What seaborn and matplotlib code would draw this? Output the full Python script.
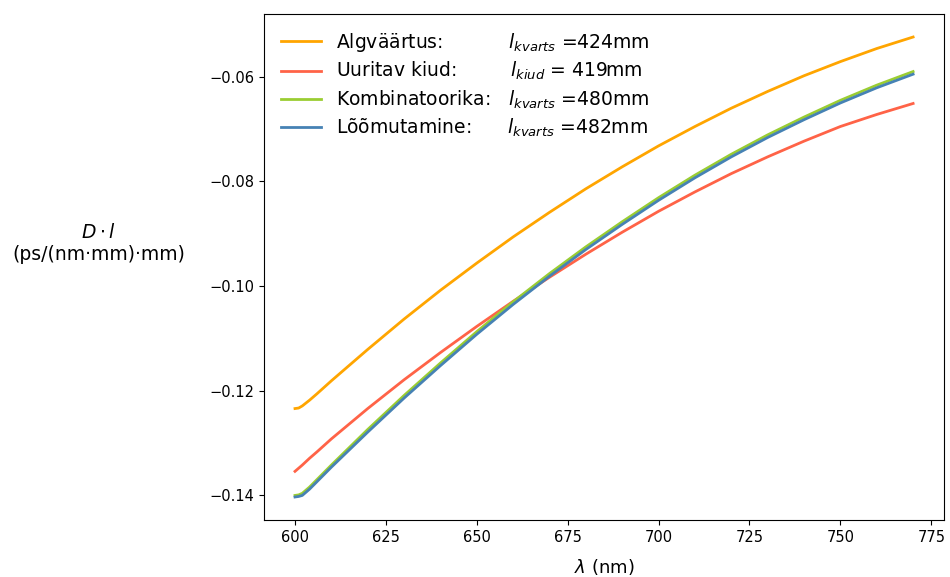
import numpy as np
import pandas as pd
import matplotlib
matplotlib.use("Agg")
import matplotlib.pyplot as plt
import seaborn as sns

wavelength = [600, 601, 602, 604, 606, 610, 620, 630, 640, 650, 660, 670, 680,
              690, 700, 710, 720, 730, 740, 750, 760, 770]

algvaartus = [-0.1234, -0.1233, -0.1229, -0.1218, -0.1206, -0.1181, -0.1121,
              -0.1063, -0.1008, -0.0956, -0.0906, -0.0859, -0.0814, -0.0772,
              -0.0732, -0.0695, -0.0660, -0.0628, -0.0598, -0.0571, -0.0546,
              -0.0524]
uuritav = [-0.1354, -0.1348, -0.1342, -0.1329, -0.1317, -0.1292, -0.1234,
           -0.1179, -0.1127, -0.1077, -0.1029, -0.0983, -0.0939, -0.0897,
           -0.0857, -0.0820, -0.0785, -0.0753, -0.0723, -0.0695, -0.0672,
           -0.0651]
kombinatoorika = [-0.1400, -0.1399, -0.1396, -0.1384, -0.1370, -0.1342,
                  -0.1274, -0.1209, -0.1147, -0.1087, -0.1030, -0.0976,
                  -0.0925, -0.0877, -0.0831, -0.0788, -0.0748, -0.0711,
                  -0.0677, -0.0645, -0.0616, -0.0590]
loomutamine = [-0.1403, -0.1402, -0.1400, -0.1388, -0.1374, -0.1346, -0.1279,
               -0.1214, -0.1152, -0.1092, -0.1035, -0.0981, -0.0930, -0.0882,
               -0.0836, -0.0793, -0.0753, -0.0716, -0.0682, -0.0650, -0.0621,
               -0.0595]

labels = [
    "Algväärtus:           $l_{kvarts}$ =424mm",
    "Uuritav kiud:         $l_{kiud}$ = 419mm",
    "Kombinatoorika:   $l_{kvarts}$ =480mm",
    "Lõõmutamine:      $l_{kvarts}$ =482mm",
]
colors = ["#FFA500", "#FF6347", "#9ACD32", "#4682B4"]
series = [algvaartus, uuritav, kombinatoorika, loomutamine]

frames = []
for lab, vals in zip(labels, series):
    frames.append(pd.DataFrame({"wl": wavelength, "val": vals, "series": lab}))
df = pd.concat(frames, ignore_index=True)

fig = plt.figure(figsize=(9.5, 5.77), dpi=100)
ax = fig.add_axes([0.278, 0.0988, 0.7157, 0.8769])

sns.lineplot(data=df, x="wl", y="val", hue="series", hue_order=labels,
             palette=colors, linewidth=2, ax=ax, sort=False)

ax.tick_params(axis="both", labelsize=10.5)
ax.set_xticks([600, 625, 650, 675, 700, 725, 750, 775])
ax.set_yticks([-0.14, -0.12, -0.10, -0.08, -0.06])
ax.set_xlabel(r"$\lambda$ (nm)", fontsize=13, labelpad=9)
ax.set_ylabel("$D \\cdot l$\n(ps/(nm·mm)·mm)", fontsize=13.5, rotation=0,
              ha="center", va="bottom")
ax.yaxis.set_label_coords(-0.243, 0.505)

leg = ax.legend(loc="upper left", frameon=False, fontsize=13.5,
                bbox_to_anchor=(0.0, 1.0), handlelength=2.13,
                labelspacing=0.33)

fig.savefig("out.png", dpi=100)
